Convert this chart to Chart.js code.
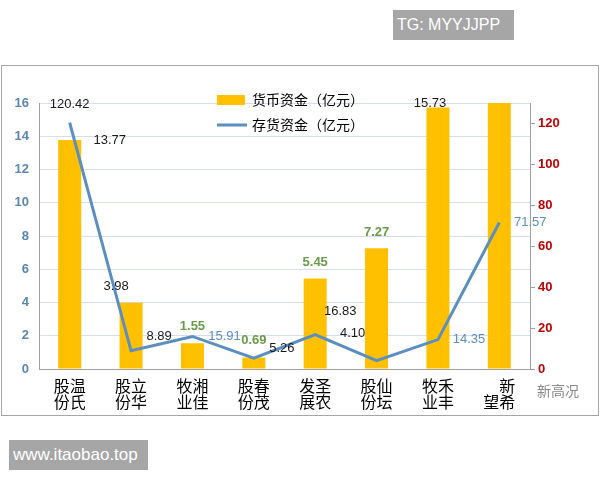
<!DOCTYPE html>
<html>
<head>
<meta charset="utf-8">
<script src="https://cdn.jsdelivr.net/npm/chart.js@4"></script>
<style>
  body { margin: 0; width: 600px; height: 480px; background: #fff; position: relative; overflow: hidden; font-family: "Liberation Sans", sans-serif; }
  #frame { position: absolute; left: 1px; top: 65px; width: 598px; height: 351px; border: 1px solid #a6a6a6; box-sizing: border-box; }
  #chart { position: absolute; left: 0; top: 0; }
  .tag { position: absolute; background: #a6a6a6; color: #fff; white-space: nowrap; }
  #tg { left: 393px; top: 10px; width: 121px; height: 30px; line-height: 30px; font-size: 16px; padding-left: 4px; box-sizing: border-box; }
  #site { left: 9px; top: 440px; width: 139px; height: 30px; line-height: 30px; font-size: 17px; padding-left: 4px; box-sizing: border-box; }
  #mark { position: absolute; left: 537px; top: 380px; font-size: 14px; color: #8a8a8a; font-family: "Noto Sans CJK SC", sans-serif; }
</style>
</head>
<body>
<div id="frame"></div>
<canvas id="chart" width="600" height="480"></canvas>
<div class="tag" id="tg">TG: MYYJJPP</div>
<div class="tag" id="site">www.itaobao.top</div>
<div id="mark">新高况</div>
<script>
// categories (two stacked rows each, as in the picture)
const categories = [
  ["股温", "份氏"],
  ["股立", "份华"],
  ["牧湘", "业佳"],
  ["股春", "份茂"],
  ["发圣", "展农"],
  ["股仙", "份坛"],
  ["牧禾", "业丰"],
  ["\u3000新", "望希"],
];

// 货币资金 (left axis, 亿元) - last bar runs off the top of the chart
const cashValues = [13.77, 3.98, 1.55, 0.69, 5.45, 7.27, 15.73, 16];
// 存货资金 (right axis, 亿元)
const inventoryValues = [120.42, 8.89, 15.91, 5.26, 16.83, 4.1, 14.35, 71.57];

const seriesNames = ["货币资金（亿元）", "存货资金（亿元）"];

const BLACK = "#1a1a1a";
const GREEN = "#6b9a4a";
const BLUE = "#5b8ec1";

// label placement relative to the bar top / line point
const cashLabelStyle = [
  { dx: 40, dy: 0, color: BLACK },
  { dx: -15, dy: -16, color: BLACK },
  { dx: 0, dy: -17, color: GREEN, bold: true },
  { dx: 0, dy: -17, color: GREEN, bold: true },
  { dx: 0, dy: -16, color: GREEN, bold: true },
  { dx: 0, dy: -16, color: GREEN, bold: true },
  { dx: -8, dy: -4, color: BLACK },
  null,
];
const inventoryLabelStyle = [
  { dx: 0, dy: -18, color: BLACK },
  { dx: 28, dy: -14, color: BLACK },
  { dx: 32, dy: 0, color: BLUE },
  { dx: 28, dy: -10, color: BLACK },
  { dx: 25, dy: -23, color: BLACK },
  { dx: -24, dy: -27, color: BLACK },
  { dx: 31, dy: 0, color: BLUE },
  { dx: 31, dy: 0, color: BLUE },
];

const valueLabels = {
  id: "valueLabels",
  afterDatasetsDraw(chart) {
    const ctx = chart.ctx;
    chart.data.datasets.forEach((ds, i) => {
      const meta = chart.getDatasetMeta(i);
      meta.data.forEach((el, j) => {
        const st = ds.labelStyle[j];
        if (!st) return;
        ctx.save();
        ctx.font = (st.bold ? "bold " : "") + "13px 'Liberation Sans', sans-serif";
        ctx.fillStyle = st.color;
        ctx.textAlign = "center";
        ctx.textBaseline = "middle";
        ctx.fillText(ds.data[j].toFixed(2), el.x + st.dx, el.y + st.dy);
        ctx.restore();
      });
    });
  },
};

const insideLegend = {
  id: "insideLegend",
  afterDraw(chart) {
    const ctx = chart.ctx;
    ctx.save();
    ctx.fillStyle = "#ffc000";
    ctx.fillRect(217, 95, 28, 10);
    ctx.strokeStyle = BLUE;
    ctx.lineWidth = 3;
    ctx.beginPath();
    ctx.moveTo(217, 125);
    ctx.lineTo(247, 125);
    ctx.stroke();
    ctx.fillStyle = "#000";
    ctx.font = "14px 'Noto Sans CJK SC', sans-serif";
    ctx.textBaseline = "middle";
    ctx.fillText(chart.data.datasets[0].label, 252, 100);
    ctx.fillText(chart.data.datasets[1].label, 252, 125);
    ctx.restore();
  },
};

new Chart(document.getElementById("chart"), {
  data: {
    labels: categories,
    datasets: [
      {
        type: "bar",
        label: seriesNames[0],
        data: cashValues,
        labelStyle: cashLabelStyle,
        yAxisID: "y",
        backgroundColor: "#ffc000",
        barPercentage: 0.375,
        categoryPercentage: 1,
        order: 1,
      },
      {
        type: "line",
        label: seriesNames[1],
        data: inventoryValues,
        labelStyle: inventoryLabelStyle,
        yAxisID: "y1",
        borderColor: BLUE,
        borderWidth: 3,
        pointRadius: 0,
        tension: 0,
        order: 0,
      },
    ],
  },
  options: {
    responsive: false,
    animation: false,
    layout: { padding: { top: 103, left: 0, right: 0, bottom: 0 } },
    plugins: {
      legend: { display: false },
      tooltip: { enabled: false },
    },
    scales: {
      x: {
        offset: true,
        grid: { display: false, drawTicks: false },
        border: { color: "#a0a0a0" },
        ticks: {
          color: "#000",
          padding: 9,
          font: { size: 16, family: "'Noto Sans CJK SC', sans-serif", lineHeight: 1.0 },
          maxRotation: 0,
        },
        afterFit: (s) => { s.height = 111; },
      },
      y: {
        position: "left",
        min: 0,
        max: 16,
        ticks: {
          stepSize: 2,
          color: "#5b87b0",
          padding: 10,
          font: { size: 13, weight: "bold", family: "'Liberation Sans', sans-serif" },
        },
        grid: { color: "#d7dee9", drawTicks: false },
        border: { color: "#a0a0a0" },
        afterFit: (s) => { s.width = 39; },
      },
      y1: {
        position: "right",
        min: 0,
        max: 130,
        ticks: {
          stepSize: 20,
          color: "#c00000",
          padding: 3,
          font: { size: 13, weight: "bold", family: "'Liberation Sans', sans-serif" },
        },
        afterBuildTicks: (s) => { s.ticks = s.ticks.filter((t) => t.value <= 120); },
        grid: { drawOnChartArea: false, tickLength: 5, color: "#a0a0a0" },
        border: { color: "#a0a0a0" },
        afterFit: (s) => { s.width = 70; },
      },
    },
  },
  plugins: [valueLabels, insideLegend],
});
</script>
</body>
</html>
